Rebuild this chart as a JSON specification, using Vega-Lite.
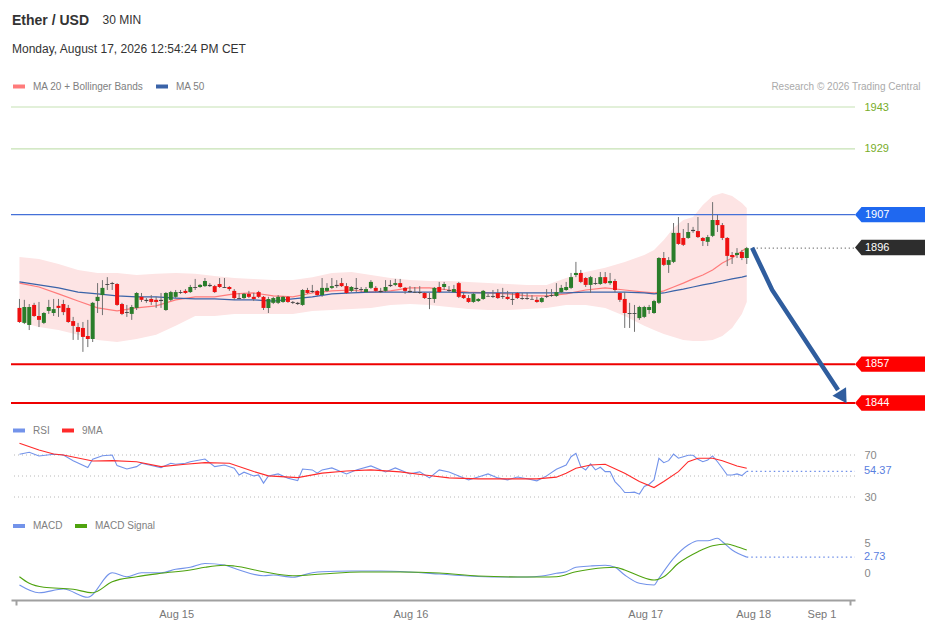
{
"$schema": "https://vega.github.io/schema/vega-lite/v6.json",
"width": 844, "height": 538,
"autosize": {"type": "none"},
"padding": {"left": 11, "right": 74, "top": 62, "bottom": 29},
"background": "#ffffff",
"config": {
 "font": "Liberation Sans",
 "view": {"stroke": null},
 "legend": {"orient": "none", "direction": "horizontal", "symbolType": "stroke", "symbolStrokeWidth": 4, "symbolSize": 144, "labelFontSize": 10, "labelColor": "#808080", "labelOffset": 6, "columnPadding": 4, "padding": 0}
},
"title": {"text": "Ether / USD", "subtitle": "Monday, August 17, 2026 12:54:24 PM CET", "anchor": "start", "frame": "group", "offset": -42, "dx": 1, "fontSize": 14, "fontWeight": "bold", "color": "#333333", "subtitleFontSize": 12, "subtitleColor": "#333333", "subtitlePadding": 16},
"datasets": {
 "candles": [
{"i":0,"o":1875.8,"h":1878.8,"l":1870.8,"c":1871.1},
{"i":1,"o":1870.8,"h":1878.5,"l":1870.4,"c":1876.1},
{"i":2,"o":1870.1,"h":1877.1,"l":1868.4,"c":1876.1},
{"i":3,"o":1876.8,"h":1877.5,"l":1872.8,"c":1873.1},
{"i":4,"o":1873.1,"h":1877.8,"l":1869.4,"c":1871.8},
{"i":5,"o":1870.8,"h":1874.4,"l":1870.4,"c":1874.1},
{"i":6,"o":1874.8,"h":1878.5,"l":1873.8,"c":1876.1},
{"i":7,"o":1874.1,"h":1878.8,"l":1873.1,"c":1875.4},
{"i":8,"o":1876.5,"h":1878.8,"l":1872.8,"c":1875.8},
{"i":9,"o":1877.1,"h":1878.5,"l":1873.4,"c":1874.4},
{"i":10,"o":1875.8,"h":1876.8,"l":1870.8,"c":1871.1},
{"i":11,"o":1871.4,"h":1872.8,"l":1865.1,"c":1869.8},
{"i":12,"o":1869.4,"h":1870.8,"l":1865.1,"c":1867.8},
{"i":13,"o":1869.1,"h":1871.1,"l":1861.1,"c":1866.1},
{"i":14,"o":1866.4,"h":1871.8,"l":1862.7,"c":1865.4},
{"i":15,"o":1865.4,"h":1877.8,"l":1864.4,"c":1877.5},
{"i":16,"o":1878.1,"h":1884.1,"l":1874.1,"c":1879.5},
{"i":17,"o":1880.1,"h":1885.1,"l":1873.4,"c":1882.5},
{"i":18,"o":1883.5,"h":1886.1,"l":1881.8,"c":1883.8},
{"i":19,"o":1884.1,"h":1884.5,"l":1881.8,"c":1883.8},
{"i":20,"o":1883.8,"h":1884.1,"l":1876.5,"c":1876.8},
{"i":21,"o":1877.1,"h":1877.5,"l":1873.4,"c":1873.8},
{"i":22,"o":1874.4,"h":1876.8,"l":1872.8,"c":1874.1},
{"i":23,"o":1873.8,"h":1876.8,"l":1871.8,"c":1876.1},
{"i":24,"o":1875.8,"h":1881.1,"l":1875.1,"c":1880.8},
{"i":25,"o":1879.5,"h":1880.8,"l":1877.8,"c":1878.5},
{"i":26,"o":1878.5,"h":1879.1,"l":1877.5,"c":1878.1},
{"i":27,"o":1878.8,"h":1880.1,"l":1876.8,"c":1877.8},
{"i":28,"o":1878.5,"h":1879.5,"l":1875.8,"c":1877.8},
{"i":29,"o":1878.5,"h":1880.8,"l":1875.8,"c":1878.1},
{"i":30,"o":1875.1,"h":1881.1,"l":1874.8,"c":1880.8},
{"i":31,"o":1878.5,"h":1881.5,"l":1878.1,"c":1881.1},
{"i":32,"o":1879.5,"h":1881.8,"l":1879.1,"c":1881.1},
{"i":33,"o":1881.1,"h":1881.8,"l":1880.5,"c":1880.8},
{"i":34,"o":1881.5,"h":1882.1,"l":1880.5,"c":1880.8},
{"i":35,"o":1881.1,"h":1883.5,"l":1880.8,"c":1882.8},
{"i":36,"o":1882.5,"h":1885.5,"l":1881.8,"c":1882.8},
{"i":37,"o":1882.8,"h":1883.8,"l":1882.5,"c":1883.5},
{"i":38,"o":1883.1,"h":1885.8,"l":1882.8,"c":1884.8},
{"i":39,"o":1883.5,"h":1884.1,"l":1882.8,"c":1883.1},
{"i":40,"o":1883.1,"h":1883.5,"l":1880.8,"c":1881.1},
{"i":41,"o":1883.8,"h":1885.8,"l":1882.5,"c":1882.8},
{"i":42,"o":1882.8,"h":1885.8,"l":1882.5,"c":1882.5},
{"i":43,"o":1882.8,"h":1883.1,"l":1881.5,"c":1882.1},
{"i":44,"o":1881.5,"h":1882.1,"l":1878.5,"c":1879.1},
{"i":45,"o":1879.1,"h":1880.8,"l":1878.8,"c":1878.8},
{"i":46,"o":1879.1,"h":1880.8,"l":1878.8,"c":1880.5},
{"i":47,"o":1880.5,"h":1881.5,"l":1879.1,"c":1879.5},
{"i":48,"o":1879.5,"h":1880.8,"l":1878.1,"c":1878.8},
{"i":49,"o":1881.1,"h":1881.5,"l":1879.1,"c":1879.5},
{"i":50,"o":1879.5,"h":1879.8,"l":1875.1,"c":1875.8},
{"i":51,"o":1875.8,"h":1879.5,"l":1874.1,"c":1878.8},
{"i":52,"o":1877.5,"h":1879.5,"l":1877.1,"c":1879.1},
{"i":53,"o":1877.5,"h":1880.1,"l":1877.1,"c":1879.5},
{"i":54,"o":1877.8,"h":1879.8,"l":1877.5,"c":1879.5},
{"i":55,"o":1879.5,"h":1879.8,"l":1877.5,"c":1877.8},
{"i":56,"o":1877.8,"h":1878.1,"l":1877.1,"c":1877.5},
{"i":57,"o":1877.5,"h":1877.8,"l":1876.8,"c":1877.1},
{"i":58,"o":1876.8,"h":1882.1,"l":1876.5,"c":1881.8},
{"i":59,"o":1881.8,"h":1882.5,"l":1880.5,"c":1880.8},
{"i":60,"o":1881.5,"h":1883.5,"l":1880.8,"c":1881.1},
{"i":61,"o":1881.5,"h":1881.8,"l":1879.8,"c":1880.1},
{"i":62,"o":1880.1,"h":1885.8,"l":1879.5,"c":1882.5},
{"i":63,"o":1881.5,"h":1884.1,"l":1881.1,"c":1882.5},
{"i":64,"o":1882.5,"h":1885.8,"l":1882.1,"c":1883.1},
{"i":65,"o":1883.1,"h":1885.1,"l":1882.5,"c":1883.5},
{"i":66,"o":1884.1,"h":1885.8,"l":1882.8,"c":1883.1},
{"i":67,"o":1883.1,"h":1884.1,"l":1880.5,"c":1880.8},
{"i":68,"o":1881.5,"h":1883.1,"l":1881.1,"c":1882.8},
{"i":69,"o":1882.5,"h":1885.8,"l":1881.1,"c":1882.1},
{"i":70,"o":1882.1,"h":1882.8,"l":1881.1,"c":1881.8},
{"i":71,"o":1881.1,"h":1882.8,"l":1880.8,"c":1882.1},
{"i":72,"o":1882.5,"h":1885.1,"l":1882.1,"c":1884.5},
{"i":73,"o":1882.5,"h":1883.1,"l":1881.1,"c":1881.5},
{"i":74,"o":1881.5,"h":1882.5,"l":1880.8,"c":1881.1},
{"i":75,"o":1881.5,"h":1885.1,"l":1881.1,"c":1882.8},
{"i":76,"o":1883.1,"h":1885.1,"l":1882.8,"c":1883.5},
{"i":77,"o":1883.5,"h":1885.5,"l":1883.1,"c":1884.1},
{"i":78,"o":1884.1,"h":1885.5,"l":1882.5,"c":1882.8},
{"i":79,"o":1882.5,"h":1882.8,"l":1880.5,"c":1881.5},
{"i":80,"o":1881.5,"h":1883.1,"l":1880.8,"c":1881.1},
{"i":81,"o":1881.1,"h":1882.8,"l":1880.8,"c":1880.9},
{"i":82,"o":1881.1,"h":1883.1,"l":1880.5,"c":1880.8},
{"i":83,"o":1880.8,"h":1881.1,"l":1878.8,"c":1879.1},
{"i":84,"o":1879.1,"h":1880.8,"l":1875.4,"c":1878.8},
{"i":85,"o":1878.8,"h":1882.8,"l":1877.5,"c":1882.5},
{"i":86,"o":1882.8,"h":1884.5,"l":1880.8,"c":1881.1},
{"i":87,"o":1882.8,"h":1884.5,"l":1881.8,"c":1883.8},
{"i":88,"o":1881.8,"h":1883.1,"l":1881.1,"c":1881.5},
{"i":89,"o":1881.1,"h":1883.5,"l":1880.8,"c":1882.1},
{"i":90,"o":1884.1,"h":1884.5,"l":1879.1,"c":1879.5},
{"i":91,"o":1880.1,"h":1880.8,"l":1878.8,"c":1879.1},
{"i":92,"o":1879.1,"h":1880.1,"l":1877.5,"c":1877.8},
{"i":93,"o":1877.8,"h":1880.8,"l":1877.5,"c":1880.5},
{"i":94,"o":1878.1,"h":1879.1,"l":1877.8,"c":1878.8},
{"i":95,"o":1878.8,"h":1881.8,"l":1878.5,"c":1881.5},
{"i":96,"o":1879.8,"h":1880.5,"l":1879.5,"c":1879.6},
{"i":97,"o":1879.8,"h":1881.8,"l":1879.1,"c":1879.5},
{"i":98,"o":1880.8,"h":1882.1,"l":1878.8,"c":1879.1},
{"i":99,"o":1879.8,"h":1882.5,"l":1878.8,"c":1879.5},
{"i":100,"o":1879.5,"h":1881.5,"l":1878.5,"c":1878.8},
{"i":101,"o":1878.8,"h":1880.8,"l":1876.8,"c":1878.5},
{"i":102,"o":1880.8,"h":1881.1,"l":1878.8,"c":1879.1},
{"i":103,"o":1879.1,"h":1880.8,"l":1878.5,"c":1878.8},
{"i":104,"o":1878.8,"h":1880.8,"l":1878.5,"c":1879.1},
{"i":105,"o":1878.8,"h":1880.1,"l":1878.5,"c":1878.6},
{"i":106,"o":1878.5,"h":1879.5,"l":1877.5,"c":1877.8},
{"i":107,"o":1877.8,"h":1879.5,"l":1877.5,"c":1879.1},
{"i":108,"o":1879.5,"h":1882.1,"l":1879.1,"c":1879.8},
{"i":109,"o":1879.8,"h":1882.1,"l":1879.5,"c":1880.1},
{"i":110,"o":1879.8,"h":1884.1,"l":1879.5,"c":1881.1},
{"i":111,"o":1881.1,"h":1883.5,"l":1880.8,"c":1882.5},
{"i":112,"o":1881.8,"h":1884.5,"l":1881.5,"c":1882.8},
{"i":113,"o":1882.5,"h":1887.5,"l":1882.1,"c":1886.1},
{"i":114,"o":1886.8,"h":1891.2,"l":1886.1,"c":1887.5},
{"i":115,"o":1887.5,"h":1888.5,"l":1884.1,"c":1884.5},
{"i":116,"o":1885.8,"h":1886.1,"l":1882.8,"c":1883.5},
{"i":117,"o":1883.5,"h":1886.5,"l":1880.8,"c":1886.1},
{"i":118,"o":1884.1,"h":1885.8,"l":1883.5,"c":1883.8},
{"i":119,"o":1883.8,"h":1887.8,"l":1883.5,"c":1886.1},
{"i":120,"o":1886.1,"h":1887.8,"l":1883.8,"c":1884.1},
{"i":121,"o":1884.1,"h":1887.5,"l":1883.5,"c":1884.8},
{"i":122,"o":1884.8,"h":1885.5,"l":1881.1,"c":1881.8},
{"i":123,"o":1880.8,"h":1881.1,"l":1877.8,"c":1878.5},
{"i":124,"o":1878.8,"h":1881.1,"l":1869.1,"c":1874.1},
{"i":125,"o":1874.1,"h":1877.5,"l":1869.1,"c":1873.8},
{"i":126,"o":1873.8,"h":1876.8,"l":1867.8,"c":1874.1},
{"i":127,"o":1872.4,"h":1876.5,"l":1871.8,"c":1876.1},
{"i":128,"o":1872.8,"h":1876.5,"l":1872.4,"c":1876.1},
{"i":129,"o":1875.1,"h":1876.8,"l":1873.8,"c":1876.1},
{"i":130,"o":1874.1,"h":1878.5,"l":1873.8,"c":1878.1},
{"i":131,"o":1877.5,"h":1892.8,"l":1877.1,"c":1892.5},
{"i":132,"o":1892.5,"h":1894.5,"l":1889.8,"c":1890.2},
{"i":133,"o":1890.2,"h":1892.8,"l":1887.5,"c":1891.8},
{"i":134,"o":1891.2,"h":1904.2,"l":1890.8,"c":1900.9},
{"i":135,"o":1900.9,"h":1906.2,"l":1896.9,"c":1897.2},
{"i":136,"o":1899.2,"h":1902.2,"l":1896.5,"c":1896.9},
{"i":137,"o":1899.2,"h":1904.2,"l":1898.9,"c":1901.2},
{"i":138,"o":1901.5,"h":1902.9,"l":1900.9,"c":1901.9},
{"i":139,"o":1901.5,"h":1906.2,"l":1899.2,"c":1899.5},
{"i":140,"o":1899.2,"h":1899.5,"l":1896.5,"c":1898.2},
{"i":141,"o":1897.9,"h":1900.2,"l":1896.5,"c":1899.5},
{"i":142,"o":1899.9,"h":1911.2,"l":1899.5,"c":1905.2},
{"i":143,"o":1905.2,"h":1906.9,"l":1901.2,"c":1903.5},
{"i":144,"o":1903.5,"h":1904.2,"l":1898.5,"c":1899.2},
{"i":145,"o":1899.2,"h":1899.5,"l":1889.8,"c":1893.2},
{"i":146,"o":1893.5,"h":1894.5,"l":1890.5,"c":1892.8},
{"i":147,"o":1893.5,"h":1895.8,"l":1892.5,"c":1894.2},
{"i":148,"o":1894.5,"h":1895.2,"l":1891.8,"c":1892.5},
{"i":149,"o":1892.5,"h":1896.2,"l":1890.5,"c":1895.8}
 ],
 "ma": [
{"i":0,"a":1884.1,"b":1884.5,"u":1892.8,"d":1871.1},
{"i":4,"a":1882.8,"b":1883.5,"u":1892.2,"d":1869.4},
{"i":8,"a":1880.5,"b":1882.5,"u":1890.5,"d":1868.4},
{"i":12,"a":1878.1,"b":1881.1,"u":1888.5,"d":1866.8},
{"i":16,"a":1875.8,"b":1880.5,"u":1887.5,"d":1865.1},
{"i":20,"a":1874.8,"b":1879.8,"u":1887.5,"d":1864.4},
{"i":24,"a":1875.8,"b":1879.5,"u":1886.8,"d":1865.4},
{"i":28,"a":1876.5,"b":1879.5,"u":1887.2,"d":1866.8},
{"i":32,"a":1878.5,"b":1879.1,"u":1887.5,"d":1869.8},
{"i":36,"a":1879.5,"b":1878.8,"u":1887.2,"d":1873.1},
{"i":40,"a":1879.5,"b":1878.8,"u":1886.5,"d":1873.1},
{"i":44,"a":1880.5,"b":1878.5,"u":1885.8,"d":1873.8},
{"i":48,"a":1880.8,"b":1878.5,"u":1885.5,"d":1873.8},
{"i":52,"a":1879.8,"b":1878.1,"u":1885.1,"d":1873.8},
{"i":56,"a":1879.5,"b":1878.8,"u":1885.1,"d":1873.8},
{"i":60,"a":1880.8,"b":1879.5,"u":1886.1,"d":1874.8},
{"i":64,"a":1881.5,"b":1880.5,"u":1887.5,"d":1875.1},
{"i":68,"a":1881.8,"b":1880.8,"u":1887.8,"d":1875.4},
{"i":72,"a":1881.1,"b":1881.1,"u":1886.8,"d":1875.8},
{"i":76,"a":1881.5,"b":1881.1,"u":1885.8,"d":1876.8},
{"i":80,"a":1882.5,"b":1881.1,"u":1885.1,"d":1877.1},
{"i":84,"a":1882.5,"b":1881.1,"u":1884.8,"d":1876.8},
{"i":88,"a":1881.8,"b":1881.1,"u":1884.8,"d":1876.1},
{"i":92,"a":1881.1,"b":1880.8,"u":1884.5,"d":1875.4},
{"i":96,"a":1880.8,"b":1880.8,"u":1884.1,"d":1875.1},
{"i":100,"a":1880.5,"b":1880.8,"u":1883.8,"d":1875.1},
{"i":104,"a":1879.8,"b":1880.8,"u":1883.5,"d":1875.4},
{"i":108,"a":1879.8,"b":1880.8,"u":1883.5,"d":1875.8},
{"i":112,"a":1880.5,"b":1880.8,"u":1885.8,"d":1876.8},
{"i":116,"a":1881.8,"b":1881.1,"u":1887.8,"d":1876.8},
{"i":120,"a":1882.5,"b":1881.1,"u":1889.2,"d":1875.8},
{"i":124,"a":1881.8,"b":1881.1,"u":1891.2,"d":1873.1},
{"i":128,"a":1881.1,"b":1880.8,"u":1893.5,"d":1869.8},
{"i":130,"a":1880.8,"b":1880.5,"u":1895.2,"d":1868.4},
{"i":132,"a":1881.5,"b":1880.8,"u":1898.5,"d":1867.1},
{"i":134,"a":1882.8,"b":1881.5,"u":1902.5,"d":1866.1},
{"i":136,"a":1884.1,"b":1882.1,"u":1905.2,"d":1865.1},
{"i":138,"a":1885.5,"b":1882.8,"u":1906.2,"d":1864.7},
{"i":140,"a":1886.8,"b":1883.5,"u":1910.2,"d":1864.7},
{"i":142,"a":1888.5,"b":1884.1,"u":1913.2,"d":1865.1},
{"i":144,"a":1890.8,"b":1884.8,"u":1914.2,"d":1866.4},
{"i":146,"a":1892.5,"b":1885.5,"u":1913.2,"d":1869.1},
{"i":148,"a":1894.8,"b":1886.1,"u":1910.9,"d":1873.8},
{"i":149,"a":1895.8,"b":1886.5,"u":1909.2,"d":1877.8}
 ],
 "levels": [{"v":1943},{"v":1929},{"v":1907},{"v":1857},{"v":1844}],
 "tags": [{"v":1907},{"v":1896},{"v":1857},{"v":1844}],
 "arrow": [{"i":150.1,"p":1895.9},{"i":154.2,"p":1881.8},{"i":167.7,"p":1848.35}],
 "arrowhead": [{"i":168.7,"p":1845.9}],
 "rsi": [
{"i":0,"s":"RSI","v":70.7},{"i":2,"s":"RSI","v":72.6},{"i":4,"s":"RSI","v":69.1},{"i":7,"s":"RSI","v":70.7},{"i":9,"s":"RSI","v":70.0},{"i":11,"s":"RSI","v":64.6},{"i":14,"s":"RSI","v":58.0},{"i":15,"s":"RSI","v":65.9},{"i":17,"s":"RSI","v":69.3},{"i":19,"s":"RSI","v":70.0},{"i":20,"s":"RSI","v":59.9},{"i":22,"s":"RSI","v":56.7},{"i":24,"s":"RSI","v":58.9},{"i":25,"s":"RSI","v":62.1},{"i":29,"s":"RSI","v":58.0},{"i":31,"s":"RSI","v":62.1},{"i":32,"s":"RSI","v":61.2},{"i":34,"s":"RSI","v":62.1},{"i":35,"s":"RSI","v":63.6},{"i":38,"s":"RSI","v":66.2},{"i":40,"s":"RSI","v":58.9},{"i":42,"s":"RSI","v":60.5},{"i":44,"s":"RSI","v":57.4},{"i":45,"s":"RSI","v":51.0},{"i":46,"s":"RSI","v":53.6},{"i":48,"s":"RSI","v":50.1},{"i":49,"s":"RSI","v":51.0},{"i":50,"s":"RSI","v":43.2},{"i":51,"s":"RSI","v":50.1},{"i":53,"s":"RSI","v":52.0},{"i":55,"s":"RSI","v":47.9},{"i":57,"s":"RSI","v":45.6},{"i":58,"s":"RSI","v":56.7},{"i":60,"s":"RSI","v":55.8},{"i":61,"s":"RSI","v":52.7},{"i":62,"s":"RSI","v":55.8},{"i":64,"s":"RSI","v":57.7},{"i":67,"s":"RSI","v":52.0},{"i":69,"s":"RSI","v":55.8},{"i":72,"s":"RSI","v":59.6},{"i":75,"s":"RSI","v":53.9},{"i":77,"s":"RSI","v":57.7},{"i":80,"s":"RSI","v":52.0},{"i":82,"s":"RSI","v":53.9},{"i":84,"s":"RSI","v":48.2},{"i":86,"s":"RSI","v":55.8},{"i":88,"s":"RSI","v":53.9},{"i":90,"s":"RSI","v":50.1},{"i":92,"s":"RSI","v":46.3},{"i":94,"s":"RSI","v":49.1},{"i":96,"s":"RSI","v":52.0},{"i":98,"s":"RSI","v":48.2},{"i":100,"s":"RSI","v":46.3},{"i":102,"s":"RSI","v":49.1},{"i":104,"s":"RSI","v":47.3},{"i":106,"s":"RSI","v":45.4},{"i":108,"s":"RSI","v":50.1},{"i":110,"s":"RSI","v":56.4},{"i":112,"s":"RSI","v":60.5},{"i":113,"s":"RSI","v":68.4},{"i":114,"s":"RSI","v":71.6},{"i":115,"s":"RSI","v":58.9},{"i":116,"s":"RSI","v":55.8},{"i":117,"s":"RSI","v":61.5},{"i":118,"s":"RSI","v":55.8},{"i":119,"s":"RSI","v":58.3},{"i":120,"s":"RSI","v":54.2},{"i":121,"s":"RSI","v":54.2},{"i":122,"s":"RSI","v":44.7},{"i":123,"s":"RSI","v":40.0},{"i":124,"s":"RSI","v":34.3},{"i":125,"s":"RSI","v":34.3},{"i":126,"s":"RSI","v":34.6},{"i":127,"s":"RSI","v":32.7},{"i":128,"s":"RSI","v":40.0},{"i":129,"s":"RSI","v":42.2},{"i":130,"s":"RSI","v":46.3},{"i":131,"s":"RSI","v":66.9},{"i":132,"s":"RSI","v":62.7},{"i":133,"s":"RSI","v":64.6},{"i":134,"s":"RSI","v":70.9},{"i":135,"s":"RSI","v":66.9},{"i":136,"s":"RSI","v":68.4},{"i":137,"s":"RSI","v":69.7},{"i":138,"s":"RSI","v":69.7},{"i":139,"s":"RSI","v":65.9},{"i":140,"s":"RSI","v":63.6},{"i":141,"s":"RSI","v":65.3},{"i":142,"s":"RSI","v":69.1},{"i":143,"s":"RSI","v":63.6},{"i":144,"s":"RSI","v":57.4},{"i":145,"s":"RSI","v":51.0},{"i":146,"s":"RSI","v":51.0},{"i":147,"s":"RSI","v":52.0},{"i":148,"s":"RSI","v":50.4},{"i":149,"s":"RSI","v":54.37},
{"i":0,"s":"9MA","v":81.1},{"i":4,"s":"9MA","v":74.7},{"i":7,"s":"9MA","v":70.9},{"i":9,"s":"9MA","v":70.0},{"i":15,"s":"9MA","v":64.3},{"i":19,"s":"9MA","v":64.6},{"i":24,"s":"9MA","v":63.6},{"i":29,"s":"9MA","v":58.9},{"i":34,"s":"9MA","v":61.2},{"i":38,"s":"9MA","v":62.7},{"i":43,"s":"9MA","v":62.1},{"i":48,"s":"9MA","v":54.2},{"i":51,"s":"9MA","v":50.1},{"i":57,"s":"9MA","v":48.5},{"i":62,"s":"9MA","v":52.7},{"i":67,"s":"9MA","v":54.8},{"i":72,"s":"9MA","v":55.8},{"i":78,"s":"9MA","v":53.9},{"i":83,"s":"9MA","v":51.0},{"i":88,"s":"9MA","v":48.2},{"i":94,"s":"9MA","v":47.3},{"i":100,"s":"9MA","v":47.3},{"i":106,"s":"9MA","v":47.3},{"i":110,"s":"9MA","v":48.9},{"i":112,"s":"9MA","v":52.7},{"i":114,"s":"9MA","v":57.4},{"i":117,"s":"9MA","v":60.5},{"i":120,"s":"9MA","v":61.2},{"i":124,"s":"9MA","v":52.7},{"i":127,"s":"9MA","v":44.7},{"i":130,"s":"9MA","v":39.0},{"i":132,"s":"9MA","v":44.7},{"i":135,"s":"9MA","v":54.2},{"i":137,"s":"9MA","v":63.6},{"i":139,"s":"9MA","v":66.9},{"i":142,"s":"9MA","v":66.9},{"i":144,"s":"9MA","v":64.6},{"i":147,"s":"9MA","v":59.6},{"i":149,"s":"9MA","v":57.4}
 ],
 "macd": [
{"i":0,"s":"MACD","v":-1.92},{"i":4,"s":"MACD","v":-3.2},{"i":9,"s":"MACD","v":-2.58},{"i":14,"s":"MACD","v":-3.97},{"i":19,"s":"MACD","v":0.13},{"i":22,"s":"MACD","v":-0.53},{"i":25,"s":"MACD","v":0.13},{"i":29,"s":"MACD","v":0.13},{"i":32,"s":"MACD","v":0.7},{"i":35,"s":"MACD","v":1.03},{"i":38,"s":"MACD","v":1.67},{"i":42,"s":"MACD","v":1.42},{"i":44,"s":"MACD","v":0.87},{"i":50,"s":"MACD","v":-0.37},{"i":52,"s":"MACD","v":-0.25},{"i":56,"s":"MACD","v":-0.63},{"i":60,"s":"MACD","v":0.13},{"i":62,"s":"MACD","v":0.3},{"i":68,"s":"MACD","v":0.42},{"i":74,"s":"MACD","v":0.42},{"i":80,"s":"MACD","v":0.25},{"i":86,"s":"MACD","v":-0.08},{"i":92,"s":"MACD","v":-0.42},{"i":98,"s":"MACD","v":-0.58},{"i":104,"s":"MACD","v":-0.58},{"i":107,"s":"MACD","v":-0.42},{"i":110,"s":"MACD","v":0.03},{"i":112,"s":"MACD","v":0.3},{"i":114,"s":"MACD","v":1.03},{"i":117,"s":"MACD","v":1.25},{"i":120,"s":"MACD","v":1.37},{"i":122,"s":"MACD","v":1.03},{"i":124,"s":"MACD","v":-0.25},{"i":127,"s":"MACD","v":-1.63},{"i":130,"s":"MACD","v":-1.92},{"i":131,"s":"MACD","v":-0.8},{"i":134,"s":"MACD","v":2.53},{"i":137,"s":"MACD","v":4.75},{"i":139,"s":"MACD","v":5.47},{"i":141,"s":"MACD","v":5.47},{"i":143,"s":"MACD","v":5.87},{"i":144,"s":"MACD","v":5.3},{"i":146,"s":"MACD","v":3.92},{"i":149,"s":"MACD","v":2.73},
{"i":0,"s":"MACD Signal","v":-0.53},{"i":2,"s":"MACD Signal","v":-1.63},{"i":5,"s":"MACD Signal","v":-2.3},{"i":11,"s":"MACD Signal","v":-2.63},{"i":15,"s":"MACD Signal","v":-3.2},{"i":19,"s":"MACD Signal","v":-1.37},{"i":24,"s":"MACD Signal","v":-0.53},{"i":29,"s":"MACD Signal","v":0.03},{"i":35,"s":"MACD Signal","v":0.58},{"i":38,"s":"MACD Signal","v":1.03},{"i":42,"s":"MACD Signal","v":1.37},{"i":44,"s":"MACD Signal","v":1.25},{"i":50,"s":"MACD Signal","v":0.3},{"i":56,"s":"MACD Signal","v":-0.37},{"i":62,"s":"MACD Signal","v":-0.08},{"i":70,"s":"MACD Signal","v":0.25},{"i":78,"s":"MACD Signal","v":0.25},{"i":86,"s":"MACD Signal","v":0.08},{"i":94,"s":"MACD Signal","v":-0.42},{"i":102,"s":"MACD Signal","v":-0.58},{"i":107,"s":"MACD Signal","v":-0.58},{"i":110,"s":"MACD Signal","v":-0.53},{"i":114,"s":"MACD Signal","v":0.3},{"i":117,"s":"MACD Signal","v":0.7},{"i":122,"s":"MACD Signal","v":1.03},{"i":124,"s":"MACD Signal","v":0.58},{"i":127,"s":"MACD Signal","v":-0.42},{"i":130,"s":"MACD Signal","v":-1.08},{"i":132,"s":"MACD Signal","v":-0.53},{"i":135,"s":"MACD Signal","v":1.7},{"i":139,"s":"MACD Signal","v":3.63},{"i":142,"s":"MACD Signal","v":4.63},{"i":145,"s":"MACD Signal","v":4.92},{"i":147,"s":"MACD Signal","v":4.47},{"i":149,"s":"MACD Signal","v":3.92}
 ],
 "rsilev": [{"v":70},{"v":50},{"v":30}]
},
"layer": [
 {"layer": [
  {"data": {"name": "ma"}, "mark": {"type": "area", "color": "#fde4e4", "opacity": 1},
   "encoding": {
    "x": {"field": "i", "type": "quantitative", "scale": {"domain": [-0.71, 170.15], "nice": false, "zero": false},
      "axis": {"values": [-0.71, 32.1, 80.1, 128.2, 150.3, 164.3, 170.15], "labelExpr": "datum.value < 0 || datum.value > 170 ? '' : datum.value < 40 ? 'Aug 15' : datum.value < 100 ? 'Aug 16' : datum.value < 140 ? 'Aug 17' : datum.value < 160 ? 'Aug 18' : 'Sep 1'", "title": null, "grid": false, "domainColor": "#a0a0a0", "domainWidth": 2, "tickColor": "#a0a0a0", "tickWidth": 2, "tickSize": 5, "tickOpacity": {"condition": {"test": "datum.value < 0 || datum.value > 170", "value": 1}, "value": 0}, "labelColor": "#777777", "labelFontSize": 11, "labelPadding": 3, "labelFlush": false, "labelOverlap": false}},
    "y": {"field": "u", "type": "quantitative", "scale": {"domain": [1844, 1943], "range": [341, 45], "nice": false, "zero": false},
      "axis": {"orient": "right", "values": [1943, 1929], "format": "d", "ticks": false, "tickSize": 0, "domain": false, "grid": false, "labelPadding": 9, "labelColor": "#78ad2a", "labelFontSize": 11, "labelAlign": "left", "labelBaseline": "middle", "title": "Research © 2026 Trading Central", "titleX": 65, "titleY": 24, "titleAngle": 0, "titleAlign": "right", "titleBaseline": "middle", "titleFontSize": 10, "titleFontWeight": "normal", "titleColor": "#aaaaaa"}},
    "y2": {"field": "d"}
   }},
  {"data": {"name": "levels"}, "mark": {"type": "rule"},
   "encoding": {
    "y": {"field": "v", "type": "quantitative", "scale": {"domain": [1844, 1943], "range": [341, 45], "nice": false, "zero": false}},
    "color": {"condition": [{"test": "datum.v > 1920", "value": "#c6e2b3"}, {"test": "datum.v > 1900", "value": "#4470d8"}], "value": "#ee0000"},
    "strokeWidth": {"condition": {"test": "datum.v < 1880", "value": 2}, "value": 1.2}
   }},
  {"data": {"name": "ma"}, "transform": [{"fold": ["a", "b"], "as": ["s", "v"]}], "mark": {"type": "line", "strokeWidth": 1.2},
   "encoding": {
    "x": {"field": "i", "type": "quantitative"},
    "y": {"field": "v", "type": "quantitative", "scale": {"domain": [1844, 1943], "range": [341, 45], "nice": false, "zero": false}},
    "color": {"field": "s", "type": "nominal", "scale": {"domain": ["a", "b"], "range": ["#ff7b7b", "#3a63a8"]},
      "legend": {"title": null, "legendX": 0, "legendY": 16.5, "labelExpr": "datum.label == 'a' ? 'MA 20 + Bollinger Bands' : 'MA 50'"}}
   }},
  {"data": {"name": "candles"}, "mark": {"type": "rule", "color": "#707070", "strokeWidth": 1},
   "encoding": {
    "x": {"field": "i", "type": "quantitative"},
    "y": {"field": "l", "type": "quantitative", "scale": {"domain": [1844, 1943], "range": [341, 45], "nice": false, "zero": false}},
    "y2": {"field": "h"}
   }},
  {"data": {"name": "candles"}, "mark": {"type": "bar", "size": 4, "orient": "vertical"},
   "encoding": {
    "x": {"field": "i", "type": "quantitative"},
    "y": {"field": "o", "type": "quantitative", "scale": {"domain": [1844, 1943], "range": [341, 45], "nice": false, "zero": false}},
    "y2": {"field": "c"},
    "color": {"condition": [{"test": "abs(datum.c - datum.o) < 0.45", "value": "#444444"}, {"test": "datum.c > datum.o", "value": "#2a7d2a"}], "value": "#ee1111"}
   }},
  {"data": {"name": "candles"}, "transform": [{"filter": "datum.i == 149"}], "mark": {"type": "rule", "color": "#333333", "strokeDash": [1, 3], "xOffset": 6},
   "encoding": {
    "x": {"field": "i", "type": "quantitative"},
    "x2": {"value": "width"},
    "y": {"field": "c", "type": "quantitative", "scale": {"domain": [1844, 1943], "range": [341, 45], "nice": false, "zero": false}}
   }},
  {"data": {"name": "arrow"}, "mark": {"type": "line", "color": "#2f5d9e", "strokeWidth": 4.5},
   "encoding": {
    "x": {"field": "i", "type": "quantitative"},
    "y": {"field": "p", "type": "quantitative", "scale": {"domain": [1844, 1943], "range": [341, 45], "nice": false, "zero": false}}
   }},
  {"data": {"name": "arrowhead"}, "mark": {"type": "point", "shape": "triangle-down", "filled": true, "color": "#2f5d9e", "opacity": 1, "size": 256, "angle": 328},
   "encoding": {
    "x": {"field": "i", "type": "quantitative"},
    "y": {"field": "p", "type": "quantitative", "scale": {"domain": [1844, 1943], "range": [341, 45], "nice": false, "zero": false}}
   }},
  {"data": {"name": "tags"}, "mark": {"type": "point", "shape": "M0,0L0.186,-0.22L2,-0.22L2,0.22L0.186,0.22Z", "size": 4900, "filled": true, "opacity": 1, "strokeWidth": 0},
   "encoding": {
    "x": {"value": "width"},
    "y": {"field": "v", "type": "quantitative", "scale": {"domain": [1844, 1943], "range": [341, 45], "nice": false, "zero": false}},
    "color": {"condition": [{"test": "datum.v > 1900", "value": "#1f68f0"}, {"test": "datum.v > 1880", "value": "#2d2d2d"}], "value": "#ff0000"}
   }},
  {"data": {"name": "tags"}, "mark": {"type": "text", "align": "left", "baseline": "middle", "dx": 10, "color": "#ffffff", "fontSize": 11},
   "encoding": {
    "x": {"value": "width"},
    "y": {"field": "v", "type": "quantitative", "scale": {"domain": [1844, 1943], "range": [341, 45], "nice": false, "zero": false}},
    "text": {"field": "v", "type": "quantitative", "format": "d"}
   }}
 ]},
 {"layer": [
  {"data": {"name": "rsilev"}, "mark": {"type": "rule", "color": "#b8b8b8", "strokeDash": [1, 3]},
   "encoding": {
    "y": {"field": "v", "type": "quantitative", "scale": {"domain": [30, 70], "range": [435, 393], "nice": false, "zero": false},
      "axis": {"orient": "right", "values": [70, 30], "format": "d", "ticks": false, "tickSize": 0, "domain": false, "grid": false, "labelPadding": 9, "labelColor": "#888888", "labelFontSize": 11, "labelAlign": "left", "labelBaseline": "middle", "title": null}}
   }},
  {"data": {"name": "rsi"}, "mark": {"type": "line", "strokeWidth": 1.1},
   "encoding": {
    "x": {"field": "i", "type": "quantitative"},
    "y": {"field": "v", "type": "quantitative", "scale": {"domain": [30, 70], "range": [435, 393], "nice": false, "zero": false}},
    "color": {"field": "s", "type": "nominal", "scale": {"domain": ["RSI", "9MA"], "range": ["#7393ea", "#ff2a2a"]},
      "legend": {"title": null, "legendX": 0, "legendY": 360.5}}
   }},
  {"data": {"name": "rsi"}, "transform": [{"filter": "datum.s == 'RSI' && datum.i == 149"}], "mark": {"type": "rule", "color": "#6d8de8", "strokeDash": [1.5, 3], "strokeWidth": 1.3},
   "encoding": {
    "x": {"field": "i", "type": "quantitative"},
    "x2": {"value": "width"},
    "y": {"field": "v", "type": "quantitative", "scale": {"domain": [30, 70], "range": [435, 393], "nice": false, "zero": false}}
   }},
  {"data": {"name": "rsi"}, "transform": [{"filter": "datum.s == 'RSI' && datum.i == 149"}], "mark": {"type": "text", "align": "left", "baseline": "middle", "dx": 9, "color": "#5a80e0", "fontSize": 11},
   "encoding": {
    "x": {"value": "width"},
    "y": {"field": "v", "type": "quantitative", "scale": {"domain": [30, 70], "range": [435, 393], "nice": false, "zero": false}},
    "text": {"field": "v", "type": "quantitative", "format": ".2f"}
   }}
 ]},
 {"layer": [
  {"data": {"name": "macd"}, "mark": {"type": "line", "strokeWidth": 1.1, "interpolate": "monotone"},
   "encoding": {
    "x": {"field": "i", "type": "quantitative"},
    "y": {"field": "v", "type": "quantitative", "scale": {"domain": [0, 5], "range": [511.5, 481.5], "nice": false, "zero": false},
      "axis": {"orient": "right", "values": [5, 0], "format": "d", "ticks": false, "tickSize": 0, "domain": false, "grid": false, "labelPadding": 9, "labelColor": "#888888", "labelFontSize": 11, "labelAlign": "left", "labelBaseline": "middle", "title": "30 MIN", "titleX": -753, "titleY": -43, "titleAngle": 0, "titleAlign": "left", "titleBaseline": "middle", "titleFontSize": 12, "titleFontWeight": "normal", "titleColor": "#333333"}},
    "color": {"field": "s", "type": "nominal", "scale": {"domain": ["MACD", "MACD Signal"], "range": ["#7393ea", "#4fa30f"]},
      "legend": {"title": null, "legendX": 0, "legendY": 456}}
   }},
  {"data": {"name": "macd"}, "transform": [{"filter": "datum.s == 'MACD' && datum.i == 149"}], "mark": {"type": "rule", "color": "#6d8de8", "strokeDash": [1.5, 3], "strokeWidth": 1.3},
   "encoding": {
    "x": {"field": "i", "type": "quantitative"},
    "x2": {"value": "width"},
    "y": {"field": "v", "type": "quantitative", "scale": {"domain": [0, 5], "range": [511.5, 481.5], "nice": false, "zero": false}}
   }},
  {"data": {"name": "macd"}, "transform": [{"filter": "datum.s == 'MACD' && datum.i == 149"}], "mark": {"type": "text", "align": "left", "baseline": "middle", "dx": 9, "color": "#5a80e0", "fontSize": 11},
   "encoding": {
    "x": {"value": "width"},
    "y": {"field": "v", "type": "quantitative", "scale": {"domain": [0, 5], "range": [511.5, 481.5], "nice": false, "zero": false}},
    "text": {"field": "v", "type": "quantitative", "format": ".2f"}
   }}
 ]}
],
"resolve": {"scale": {"y": "independent", "color": "independent"}, "axis": {"y": "independent"}, "legend": {"color": "independent"}}
}
